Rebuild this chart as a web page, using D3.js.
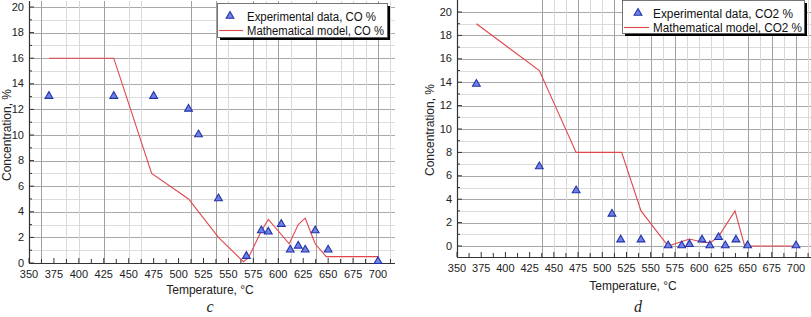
<!DOCTYPE html>
<html>
<head>
<meta charset="utf-8">
<script src="https://cdn.jsdelivr.net/npm/d3@7"></script>
<style>
  body { margin: 0; background: #fff; }
  svg { display: block; font-family: "Liberation Sans", Arial, sans-serif; }
</style>
</head>
<body>
<svg id="chart" width="811" height="317"></svg>
<script>
// ---- data ----
let co_exp_t = [370, 435, 475, 510, 520, 540, 568, 583, 590, 603, 612, 620, 627, 637, 650, 700];
let co_exp_v = [13, 13, 13, 12, 10, 5, 0.5, 2.5, 2.4, 3.0, 1.0, 1.3, 1.0, 2.5, 1.0, 0.1];
let co_model_t = [370, 435, 473, 510, 540, 565, 570, 583, 590, 611, 620, 627, 637, 648, 700];
let co_model_v = [16, 16, 7, 5, 2, 0.1, 0.4, 2.5, 3.4, 1.5, 3.0, 3.5, 1.5, 0.5, 0.5];

let co2_exp_t = [370, 435, 473, 510, 519, 540, 568, 582, 590, 603, 611, 620, 627, 638, 650, 700];
let co2_exp_v = [13.8, 6.75, 4.7, 2.7, 0.5, 0.5, 0, 0, 0.1, 0.5, 0, 0.7, 0, 0.5, 0, 0];
let co2_model_t = [370, 435, 473, 520, 540, 568, 590, 605, 612, 620, 637, 647, 700];
let co2_model_v = [19, 15, 8, 8, 3, 0, 0.6, 0.3, 0.3, 0.8, 3, 0, 0];

let x_ticks = d3.range(350, 701, 25);
let x_minor = d3.range(350, 715, 12.5);
let y_ticks = d3.range(0, 21, 2);
let y_minor = d3.range(0, 21, 1);

// vertical grid positions (°C) seen in each panel; darker ones separately
let c_grid_light = [387.5, 400, 450, 462.5, 550, 587.5, 612.5, 662.5, 675, 687.5, 712.5];
let c_grid_dark = [362.5, 425, 512.5, 537.5, 575, 600, 637.5, 700];
let d_grid_light = [450, 462.5, 487.5, 500, 525, 537.5, 562.5, 587.5, 600, 612.5, 625, 662.5, 687.5, 712.5];
let d_grid_dark = [437.5, 475, 512.5, 550, 575, 650, 675, 700];

let svg = d3.select('#chart');

function draw_panel(cfg){
  let g = svg.append('g').attr('class', 'panel');
  let x = d3.scaleLinear().domain([350, 700]).range([cfg.x0, cfg.x700]);
  let y = d3.scaleLinear().domain([0, 20]).range([cfg.y0, cfg.y20]);
  let right = cfg.right;
  let bottom = y(cfg.ymin);

  // horizontal grid
  g.append('g').selectAll('line').data(y_minor.filter(v => v > cfg.ymin && v <= 20)).enter().append('line')
    .attr('x1', cfg.x0).attr('x2', right)
    .attr('y1', d => Math.round(y(d)) + 0.5).attr('y2', d => Math.round(y(d)) + 0.5)
    .attr('stroke', d => d % 2 == 0 ? '#a8a8a8' : '#dcdcdc').attr('stroke-width', 1);

  // vertical grid
  g.append('g').selectAll('line').data(cfg.grid_light).enter().append('line')
    .attr('x1', d => Math.round(x(d)) + 0.5).attr('x2', d => Math.round(x(d)) + 0.5)
    .attr('y1', cfg.top).attr('y2', bottom)
    .attr('stroke', '#d8d8d8');
  g.append('g').selectAll('line').data(cfg.grid_dark).enter().append('line')
    .attr('x1', d => Math.round(x(d)) + 0.5).attr('x2', d => Math.round(x(d)) + 0.5)
    .attr('y1', cfg.top).attr('y2', bottom)
    .attr('stroke', '#a0a0a0');

  // axes lines
  g.append('line').attr('x1', cfg.x0 + 0.5).attr('x2', cfg.x0 + 0.5).attr('y1', cfg.top).attr('y2', bottom)
    .attr('stroke', '#333').attr('stroke-width', 1.2);
  g.append('line').attr('x1', cfg.x0).attr('x2', right).attr('y1', bottom + 0.5).attr('y2', bottom + 0.5)
    .attr('stroke', '#333').attr('stroke-width', 1.2);

  // x ticks (pointing inward)
  g.append('g').selectAll('line').data(x_minor).enter().append('line')
    .attr('x1', d => x(d)).attr('x2', d => x(d))
    .attr('y1', bottom).attr('y2', d => bottom - (d % 25 == 0 ? 5 : 4))
    .attr('stroke', '#333');
  g.append('g').selectAll('text').data(x_ticks).enter().append('text')
    .attr('x', d => x(d)).attr('y', bottom + 15)
    .attr('text-anchor', 'middle').attr('font-size', 11).attr('fill', '#222')
    .text(d => d);

  // y ticks
  g.append('g').selectAll('line').data(y_minor).enter().append('line')
    .attr('x1', cfg.x0).attr('x2', d => cfg.x0 + (d % 2 == 0 ? 5 : 3))
    .attr('y1', d => y(d)).attr('y2', d => y(d))
    .attr('stroke', '#333');
  g.append('g').selectAll('text').data(y_ticks).enter().append('text')
    .attr('x', cfg.x0 - 5).attr('y', d => y(d) + 3.5)
    .attr('text-anchor', 'end').attr('font-size', 11).attr('fill', '#222')
    .text(d => d);

  // axis titles
  g.append('text').attr('x', cfg.xtitle_x).attr('y', cfg.xtitle_y)
    .attr('text-anchor', 'middle').attr('font-size', 12).attr('fill', '#222')
    .text('Temperature, °C');
  g.append('text').attr('transform', 'translate(' + cfg.ytitle_x + ',' + cfg.ytitle_y + ') rotate(-90)')
    .attr('text-anchor', 'middle').attr('font-size', 12).attr('fill', '#222')
    .text('Concentration, %');
  g.append('text').attr('x', cfg.letter_x).attr('y', cfg.letter_y)
    .attr('text-anchor', 'middle').attr('font-size', 16).attr('font-style', 'italic')
    .attr('font-family', '"Liberation Serif", "Times New Roman", serif').attr('fill', '#222')
    .text(cfg.letter);

  // model line
  let line = d3.line().x(d => x(d[0])).y(d => y(d[1]));
  g.append('path').datum(d3.zip(cfg.model_t, cfg.model_v))
    .attr('d', line).attr('fill', 'none').attr('stroke', '#e0474c').attr('stroke-width', 1.1);

  // experimental points
  let tri = d3.symbol().type(d3.symbolTriangle).size(26);
  g.append('g').selectAll('path').data(d3.zip(cfg.exp_t, cfg.exp_v)).enter().append('path')
    .attr('d', tri)
    .attr('transform', d => 'translate(' + x(d[0]) + ',' + (y(d[1]) - 0.5) + ')')
    .attr('fill', '#7282e6').attr('stroke', '#2233a8').attr('stroke-width', 1.1);

  // legend
  let L = cfg.legend;
  g.append('rect').attr('x', L.x + 3).attr('y', L.y + 3).attr('width', L.w).attr('height', L.h).attr('fill', '#000');
  g.append('rect').attr('x', L.x + 0.5).attr('y', L.y + 0.5).attr('width', L.w).attr('height', L.h)
    .attr('fill', '#fff').attr('stroke', '#555').attr('stroke-width', 0.8);
  g.append('path').attr('d', tri)
    .attr('transform', 'translate(' + (L.x + L.mark_dx) + ',' + (L.y + 13) + ')')
    .attr('fill', '#7282e6').attr('stroke', '#2233a8').attr('stroke-width', 1.1);
  g.append('line').attr('x1', L.x + 2).attr('x2', L.x + L.text_dx - 4)
    .attr('y1', L.y + 27.5).attr('y2', L.y + 27.5).attr('stroke', '#e0474c').attr('stroke-width', 1.1);
  g.append('text').attr('x', L.x + L.text_dx).attr('y', L.y + 17.5).attr('font-size', 12.5).attr('fill', '#111')
    .attr('textLength', L.w1).attr('lengthAdjust', 'spacingAndGlyphs').text(L.t1);
  g.append('text').attr('x', L.x + L.text_dx).attr('y', L.y + 32).attr('font-size', 12.5).attr('fill', '#111')
    .attr('textLength', L.w2).attr('lengthAdjust', 'spacingAndGlyphs').text(L.t2);
}

draw_panel({
  x0: 29, x700: 378, y0: 263, y20: 7, ymin: 0, top: 1, right: 395,
  grid_light: c_grid_light, grid_dark: c_grid_dark,
  exp_t: co_exp_t, exp_v: co_exp_v, model_t: co_model_t, model_v: co_model_v,
  xtitle_x: 210, xtitle_y: 294, ytitle_x: 11, ytitle_y: 135,
  letter: 'c', letter_x: 210, letter_y: 312,
  legend: {x: 217, y: 3, w: 170, h: 34, mark_dx: 13, text_dx: 30, w1: 129, w2: 137,
           t1: 'Experimental data, CO %', t2: 'Mathematical model, CO %'}
});

draw_panel({
  x0: 457, x700: 796, y0: 246, y20: 12, ymin: -0.94, top: 0, right: 811,
  grid_light: d_grid_light, grid_dark: d_grid_dark,
  exp_t: co2_exp_t, exp_v: co2_exp_v, model_t: co2_model_t, model_v: co2_model_v,
  xtitle_x: 633, xtitle_y: 290, ytitle_x: 434, ytitle_y: 130,
  letter: 'd', letter_x: 638, letter_y: 312,
  legend: {x: 622, y: 0, w: 182, h: 33, mark_dx: 16, text_dx: 31, w1: 140, w2: 149,
           t1: 'Experimental data, CO2 %', t2: 'Mathematical model, CO2 %'}
});
</script>
</body>
</html>
